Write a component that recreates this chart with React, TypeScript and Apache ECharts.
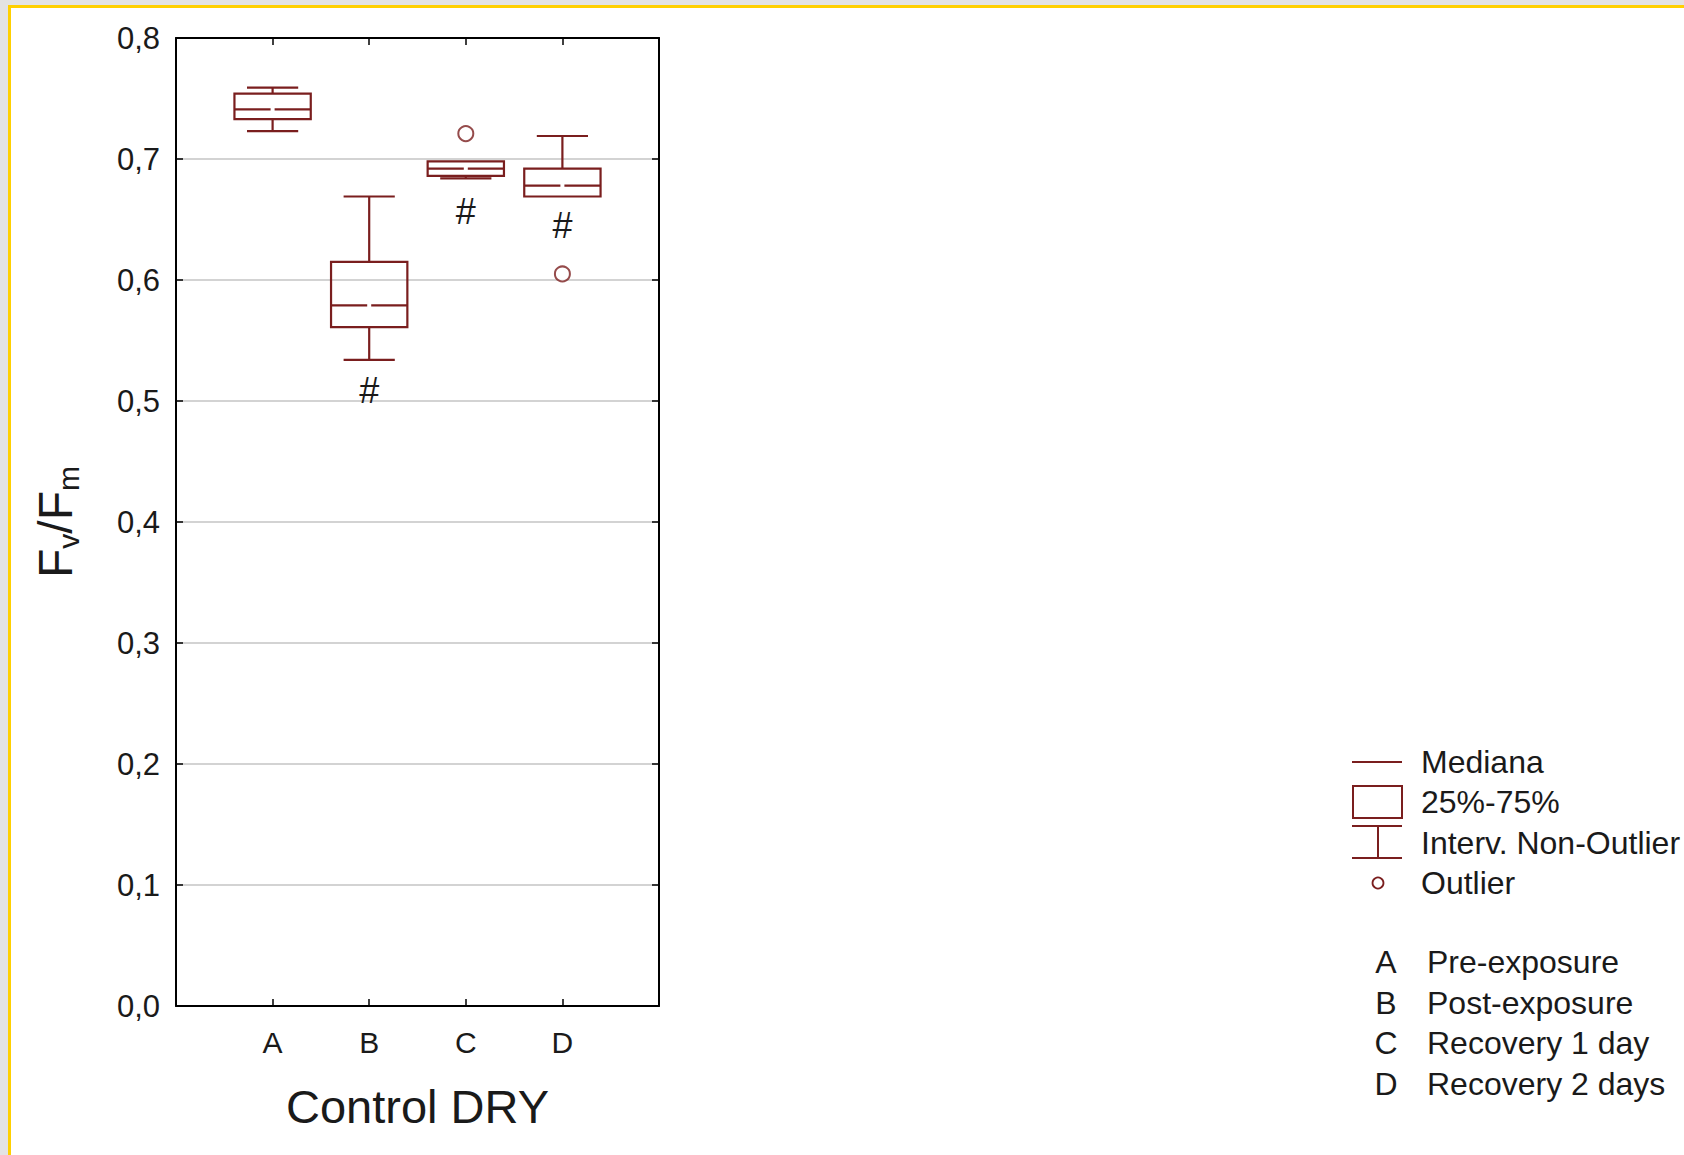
import React, { useEffect, useRef } from "react";
import * as echarts from "echarts";

// ---------- data ----------
const categories = ["A", "B", "C", "D"];
const categoryNames = ["Pre-exposure", "Post-exposure", "Recovery 1 day", "Recovery 2 days"];
const whiskerLow = [0.723, 0.534, 0.684, 0.669];
const quartile1 = [0.733, 0.561, 0.686, 0.669];
const medians = [0.741, 0.579, 0.692, 0.678];
const quartile3 = [0.754, 0.615, 0.698, 0.692];
const whiskerHigh = [0.759, 0.669, 0.698, 0.719];
const outlierCats = ["C", "D"];
const outlierValues = [0.721, 0.605];
const sigCats = ["B", "C", "D"];
const sigValues = [0.509, 0.657, 0.645];
const legendLabels = ["Mediana", "25%-75%", "Interv. Non-Outlier", "Outlier"];
const xAxisTitle = "Control DRY";
const yMin = 0;
const yMax = 0.8;
const yStep = 0.1;

// ---------- style ----------
const MAROON = "#7a1e1e";
const TEXT = "#1a1a1a";
const FONT = "'Liberation Sans', Arial, sans-serif";

const catX = (c: string) => categories.indexOf(c) + 1;

export default function App() {
  const ref = useRef<HTMLDivElement>(null);

  useEffect(() => {
    if (!ref.current) return;
    const chart = echarts.init(ref.current, undefined, { renderer: "svg" });

    const boxData = categories.map((c, i) => [
      i + 1,
      whiskerLow[i],
      quartile1[i],
      medians[i],
      quartile3[i],
      whiskerHigh[i],
    ]);

    const xLabel = (v: number) => (v >= 1 && v <= categories.length ? categories[v - 1] : "");

    const lineStyle = { stroke: MAROON, lineWidth: 2, fill: "none" };

    const legendGraphics: any[] = [
      // page frame
      { type: "rect", shape: { x: 0, y: 0, width: 1684, height: 5 }, style: { fill: "#e3e3e3" }, silent: true },
      { type: "rect", shape: { x: 0, y: 0, width: 8, height: 1155 }, style: { fill: "#e3e3e3" }, silent: true },
      {
        type: "polyline",
        shape: { points: [[9.5, 1155], [9.5, 6.5], [1684, 6.5]] },
        style: { stroke: "#ffd000", lineWidth: 3, fill: "none" },
        silent: true,
      },
      // legend symbols
      { type: "line", shape: { x1: 1352, y1: 762, x2: 1402, y2: 762 }, style: lineStyle },
      { type: "rect", shape: { x: 1353, y: 786, width: 49, height: 32 }, style: lineStyle },
      { type: "line", shape: { x1: 1352, y1: 826, x2: 1402, y2: 826 }, style: lineStyle },
      { type: "line", shape: { x1: 1378, y1: 826, x2: 1378, y2: 858 }, style: lineStyle },
      { type: "line", shape: { x1: 1352, y1: 858, x2: 1402, y2: 858 }, style: lineStyle },
      { type: "circle", shape: { cx: 1378, cy: 883, r: 5.5 }, style: { stroke: MAROON, lineWidth: 1.8, fill: "#fff" } },
    ];
    const legendY = [762, 802, 843, 883];
    legendLabels.forEach((t, i) => {
      legendGraphics.push({
        type: "text",
        x: 1421,
        y: legendY[i],
        style: { text: t, fontSize: 32, fontFamily: FONT, fill: TEXT, align: "left", verticalAlign: "middle" },
      });
    });
    categories.forEach((c, i) => {
      const y = 962 + i * 40.5;
      legendGraphics.push({
        type: "text",
        x: 1386,
        y,
        style: { text: c, fontSize: 32, fontFamily: FONT, fill: TEXT, align: "center", verticalAlign: "middle" },
      });
      legendGraphics.push({
        type: "text",
        x: 1427,
        y,
        style: { text: categoryNames[i], fontSize: 32, fontFamily: FONT, fill: TEXT, align: "left", verticalAlign: "middle" },
      });
    });

    const xAxisCommon = {
      type: "value",
      min: 0,
      max: categories.length + 1,
      interval: 1,
      splitLine: { show: false },
      axisLine: { show: true, onZero: false, lineStyle: { color: "#000", width: 2 } },
      axisTick: { show: true, inside: true, length: 7, lineStyle: { color: "#000", width: 1.5 } },
    };
    const yAxisCommon = {
      type: "value",
      min: yMin,
      max: yMax,
      interval: yStep,
      axisLine: { show: true, onZero: false, lineStyle: { color: "#000", width: 2 } },
      axisTick: { show: true, inside: true, length: 7, lineStyle: { color: "#000", width: 1.5 } },
    };

    chart.setOption({
      animation: false,
      backgroundColor: "#ffffff",
      textStyle: { fontFamily: FONT },
      grid: { left: 176, right: 1025, top: 38, bottom: 149, containLabel: false },
      xAxis: [
        {
          ...xAxisCommon,
          position: "bottom",
          name: xAxisTitle,
          nameLocation: "middle",
          nameGap: 77,
          nameTextStyle: { fontSize: 47, color: TEXT, fontFamily: FONT },
          axisLabel: {
            show: true,
            margin: 21,
            fontSize: 30,
            color: TEXT,
            fontFamily: FONT,
            formatter: (v: number) => xLabel(v),
          },
        },
        {
          ...xAxisCommon,
          position: "top",
          axisLabel: { show: false },
        },
      ],
      yAxis: [
        {
          ...yAxisCommon,
          position: "left",
          name: "{a|F}{s|v}{a|/F}{s|m}",
          nameLocation: "middle",
          nameRotate: 90,
          nameGap: 97,
          nameTextStyle: {
            color: TEXT,
            rich: {
              a: { fontSize: 48, lineHeight: 48, fontFamily: FONT, color: TEXT, verticalAlign: "top" },
              s: { fontSize: 30, lineHeight: 30, fontFamily: FONT, color: TEXT, verticalAlign: "top", padding: [22, 0, 0, 0] },
            },
          },
          splitLine: { show: true, lineStyle: { color: "#c4c4c4", width: 1.5 } },
          axisLabel: {
            show: true,
            margin: 16,
            fontSize: 31,
            color: TEXT,
            fontFamily: FONT,
            formatter: (v: number) => v.toFixed(1).replace(".", ","),
          },
        },
        {
          ...yAxisCommon,
          position: "right",
          splitLine: { show: false },
          axisLabel: { show: false },
        },
      ],
      series: [
        {
          type: "custom",
          name: "Boxes",
          xAxisIndex: 0,
          yAxisIndex: 0,
          data: boxData,
          renderItem: (params: any, api: any) => {
            const x = api.value(0);
            const pLo = api.coord([x, api.value(1)]);
            const cx = pLo[0];
            const yLo = pLo[1];
            const yQ1 = api.coord([x, api.value(2)])[1];
            const yMed = api.coord([x, api.value(3)])[1];
            const yQ3 = api.coord([x, api.value(4)])[1];
            const yHi = api.coord([x, api.value(5)])[1];
            const bw = api.size([0.79, 0])[0];
            const cw = api.size([0.53, 0])[0];
            const gap = 2;
            const st = { stroke: MAROON, lineWidth: 2.2, fill: "none" };
            const children: any[] = [];
            if (yHi < yQ3 - 0.5) {
              children.push({ type: "line", shape: { x1: cx, y1: yHi, x2: cx, y2: yQ3 }, style: st });
              children.push({ type: "line", shape: { x1: cx - cw / 2, y1: yHi, x2: cx + cw / 2, y2: yHi }, style: st });
            }
            if (yLo > yQ1 + 0.5) {
              children.push({ type: "line", shape: { x1: cx, y1: yQ1, x2: cx, y2: yLo }, style: st });
              children.push({ type: "line", shape: { x1: cx - cw / 2, y1: yLo, x2: cx + cw / 2, y2: yLo }, style: st });
            }
            children.push({
              type: "rect",
              shape: { x: cx - bw / 2, y: yQ3, width: bw, height: yQ1 - yQ3 },
              style: st,
            });
            children.push({ type: "line", shape: { x1: cx - bw / 2, y1: yMed, x2: cx - gap, y2: yMed }, style: st });
            children.push({ type: "line", shape: { x1: cx + gap, y1: yMed, x2: cx + bw / 2, y2: yMed }, style: st });
            return { type: "group", children };
          },
          z: 5,
        },
        {
          type: "scatter",
          name: "Outlier",
          xAxisIndex: 0,
          yAxisIndex: 0,
          data: outlierCats.map((c, i) => [catX(c), outlierValues[i]]),
          symbol: "emptyCircle",
          symbolSize: 15,
          itemStyle: { color: MAROON, borderColor: MAROON, borderWidth: 2 },
          z: 6,
        },
        {
          type: "custom",
          name: "Significance",
          xAxisIndex: 0,
          yAxisIndex: 0,
          data: sigCats.map((c, i) => [catX(c), sigValues[i]]),
          renderItem: (params: any, api: any) => {
            const p = api.coord([api.value(0), api.value(1)]);
            return {
              type: "text",
              x: p[0],
              y: p[1],
              style: {
                text: "#",
                fontSize: 36,
                fontFamily: FONT,
                fill: TEXT,
                align: "center",
                verticalAlign: "middle",
              },
            };
          },
          z: 6,
        },
      ],
      graphic: legendGraphics,
    });

    return () => {
      chart.dispose();
    };
  }, []);

  return (
    <div
      ref={ref}
      style={{ position: "absolute", left: 0, top: 0, width: 1684, height: 1155 }}
    />
  );
}
